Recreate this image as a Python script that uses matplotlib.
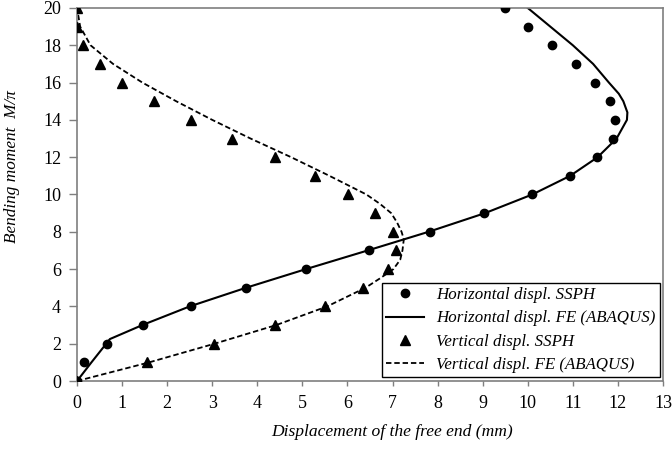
import matplotlib

matplotlib.use("Agg")
import matplotlib.pyplot as plt

plt.rcParams["font.family"] = ["Liberation Serif", "DejaVu Serif"]

# Bending moment levels (M/pi)
moment = [0, 1, 2, 3, 4, 5, 6, 7, 8, 9, 10, 11, 12, 13, 14, 15, 16, 17, 18, 19, 20]

# SSPH results (mm)
horiz_ssph = [0, 0.16, 0.66, 1.47, 2.52, 3.75, 5.08, 6.48, 7.83, 9.03, 10.09,
              10.94, 11.54, 11.88, 11.93, 11.82, 11.50, 11.06, 10.53, 10.01, 9.49]
vert_ssph = [0, 1.55, 3.05, 4.39, 5.50, 6.34, 6.89, 7.08, 7.01, 6.62, 6.02,
             5.28, 4.39, 3.43, 2.52, 1.71, 1.00, 0.50, 0.14, 0.01, 0]

# FE (ABAQUS) curves
horiz_fe_m = [0, 1, 2.25, 3, 4, 5, 6, 7, 8, 9, 10, 11, 12, 13, 14, 14.4, 15,
              15.4, 16, 17, 18, 19, 20]
horiz_fe_x = [0, 0.32, 0.73, 1.45, 2.5, 3.75, 5.08, 6.45, 7.8, 9.05, 10.1, 10.94,
              11.55, 11.97, 12.2, 12.21, 12.12, 12.02, 11.8, 11.45, 11.0, 10.5, 10.0]
vert_fe_m = [0, 1, 2, 3, 4, 5, 5.5, 6, 6.5, 7, 7.6, 8, 8.5, 9, 9.5, 10, 11, 12,
             13, 14, 15, 16, 17, 18, 19, 20]
vert_fe_x = [0, 1.6, 3.05, 4.42, 5.55, 6.4, 6.72, 7.02, 7.17, 7.22, 7.25, 7.2,
             7.1, 6.97, 6.72, 6.42, 5.6, 4.75, 3.85, 3.0, 2.2, 1.45, 0.8, 0.3,
             0.07, 0]

fig = plt.figure(figsize=(6.72, 4.5), dpi=100)
ax = fig.add_axes([0.1146, 0.1533, 0.872, 0.829])

ax.plot(horiz_ssph, moment, "o", color="black", markersize=6,
        label="Horizontal displ. SSPH", zorder=3)
ax.plot(horiz_fe_x, horiz_fe_m, "-", color="black", linewidth=1.5,
        label="Horizontal displ. FE (ABAQUS)")
ax.plot(vert_ssph, moment, "^", color="black", markersize=7,
        label="Vertical displ. SSPH", zorder=3)
ax.plot(vert_fe_x, vert_fe_m, color="black", linewidth=1.3,
        linestyle=(0, (3, 1.6)), label="Vertical displ. FE (ABAQUS)")

ax.set_xlim(0, 13)
ax.set_ylim(0, 20)
ax.set_xticks(range(0, 14))
ax.set_yticks(range(0, 21, 2))

for spine in ax.spines.values():
    spine.set_color("#7f7f7f")
    spine.set_linewidth(1.2)
ax.tick_params(direction="out", width=1, color="#7f7f7f", labelsize=13)
ax.tick_params(axis="x", length=3.8, pad=6.5)
ax.tick_params(axis="y", length=5.5, pad=6)

ax.set_xlabel("Displacement of the free end (mm)", fontstyle="italic",
              fontsize=12.6)
ax.xaxis.set_label_coords(0.537, -0.115)
ax.set_ylabel("Bending moment  M/\u03c0", fontstyle="italic", fontsize=12.4)
ax.yaxis.set_label_coords(-0.097, 0.576)

leg = ax.legend(loc="lower right", bbox_to_anchor=(0.995, 0.011),
                borderaxespad=0, fancybox=False, edgecolor="black",
                framealpha=1, handlelength=2.2, handletextpad=0.75,
                labelspacing=0.42, borderpad=0.25,
                prop={"style": "italic", "size": 12.2})
leg.get_frame().set_linewidth(1.0)

plt.savefig("out.png", dpi=100)
plt.close()
